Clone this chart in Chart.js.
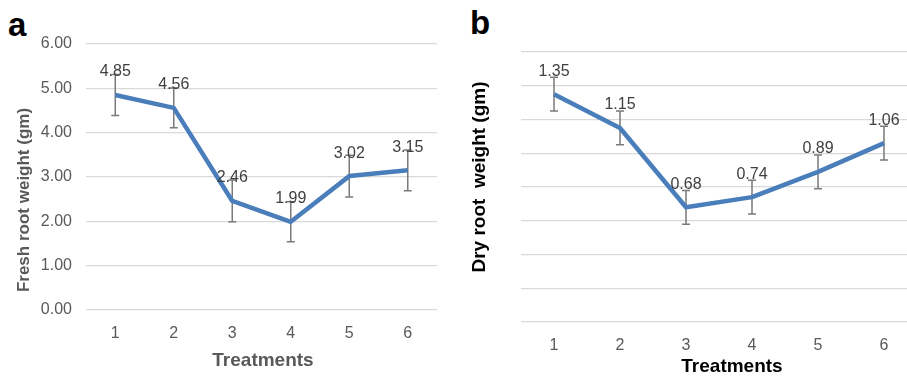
<!DOCTYPE html>
<html>
<head>
<meta charset="utf-8">
<script src="https://cdn.jsdelivr.net/npm/chart.js"></script>
<style>
    html, body { margin: 0; padding: 0; background: #fff; }
    body { width: 907px; height: 376px; overflow: hidden; position: relative; }
    .panel { position: absolute; top: 0; }
    .letter { position: absolute; font-family: "Liberation Sans", Arial, sans-serif; font-weight: bold; font-size: 33px; color: #000; line-height: 1; }
</style>
</head>
<body>
<div class="letter" style="left:8px; top:8px;">a</div>
<div class="letter" style="left:470px; top:6px;">b</div>
<canvas id="freshChart" class="panel" style="left:0px;" width="460" height="376"></canvas>
<canvas id="dryChart" class="panel" style="left:460px;" width="460" height="376"></canvas>

<script>
    const treatments = ['1', '2', '3', '4', '5', '6'];
    const freshWeight = [4.85, 4.56, 2.46, 1.99, 3.02, 3.15];
    const freshError = [0.46, 0.45, 0.47, 0.45, 0.47, 0.46];
    const dryWeight = [1.35, 1.15, 0.68, 0.74, 0.89, 1.06];
    const dryError = [0.10, 0.10, 0.10, 0.10, 0.10, 0.10];

    const FONT = '"Liberation Sans", Arial, sans-serif';
    const lineColor = '#4a7ebb';

    // error bars go under the line, value labels + axis titles on top
    const errorBarPlugin = {
        id: 'errorBars',
        beforeDatasetsDraw(chart, args, opts) {
            const ctx = chart.ctx;
            const yScale = chart.scales.y;
            const meta = chart.getDatasetMeta(0);
            const values = chart.data.datasets[0].data;
            ctx.save();
            ctx.strokeStyle = '#7a7a7a';
            ctx.lineWidth = 1.5;
            meta.data.forEach((pt, i) => {
                const top = yScale.getPixelForValue(values[i] + opts.errors[i]);
                const bottom = yScale.getPixelForValue(values[i] - opts.errors[i]);
                ctx.beginPath();
                ctx.moveTo(pt.x, top);
                ctx.lineTo(pt.x, bottom);
                ctx.moveTo(pt.x - 4, top);
                ctx.lineTo(pt.x + 4, top);
                ctx.moveTo(pt.x - 4, bottom);
                ctx.lineTo(pt.x + 4, bottom);
                ctx.stroke();
            });
            ctx.restore();
        },
        afterDatasetsDraw(chart) {
            const ctx = chart.ctx;
            const meta = chart.getDatasetMeta(0);
            const values = chart.data.datasets[0].data;
            ctx.save();
            ctx.font = '16px ' + FONT;
            ctx.fillStyle = '#404040';
            ctx.textAlign = 'center';
            ctx.textBaseline = 'middle';
            meta.data.forEach((pt, i) => {
                ctx.fillText(values[i].toFixed(2), pt.x, pt.y - 23);
            });
            ctx.restore();
        },
        afterDraw(chart, args, opts) {
            const ctx = chart.ctx;
            ctx.save();
            ctx.fillStyle = opts.titleColor;
            ctx.textAlign = 'center';
            ctx.textBaseline = 'middle';
            ctx.font = 'bold 19px ' + FONT;
            ctx.fillText('Treatments', opts.xTitlePos[0], opts.xTitlePos[1]);
            ctx.translate(opts.yTitlePos[0], opts.yTitlePos[1]);
            ctx.rotate(-Math.PI / 2);
            ctx.font = 'bold ' + opts.yTitleSize + 'px ' + FONT;
            ctx.fillText(opts.yTitle, 0, 0);
            ctx.restore();
        }
    };

    const makeChart = (el, cfg) => new Chart(el, {
        type: 'line',
        data: {
            labels: treatments,
            datasets: [{
                data: cfg.values,
                borderColor: lineColor,
                borderWidth: 4.5,
                pointRadius: 0,
                tension: 0,
                borderJoinStyle: 'round'
            }]
        },
        options: {
            responsive: false,
            animation: false,
            layout: { padding: cfg.padding },
            plugins: {
                legend: { display: false },
                tooltip: { enabled: false },
                errorBars: {
                    errors: cfg.errors,
                    titleColor: cfg.titleColor,
                    yTitle: cfg.yTitle,
                    yTitleSize: cfg.yTitleSize,
                    xTitlePos: cfg.xTitlePos,
                    yTitlePos: cfg.yTitlePos
                }
            },
            scales: {
                x: {
                    offset: true,
                    grid: { display: false, drawTicks: false },
                    border: { display: false },
                    ticks: { color: '#595959', font: { family: FONT, size: 16 }, padding: 14 },
                    afterFit(scale) { scale.height = cfg.xHeight; }
                },
                y: {
                    min: 0,
                    max: cfg.max,
                    grid: { color: '#d9d9d9', lineWidth: 1.3, drawTicks: false },
                    border: { display: false },
                    ticks: {
                        display: cfg.showTicks,
                        stepSize: cfg.step,
                        color: '#595959',
                        font: { family: FONT, size: 16 },
                        padding: 14,
                        callback: (v) => Number(v).toFixed(2)
                    },
                    afterFit(scale) { scale.width = cfg.yWidth; }
                }
            }
        },
        plugins: [errorBarPlugin]
    });

    makeChart(document.getElementById('freshChart'), {
        values: freshWeight,
        errors: freshError,
        max: 6,
        step: 1,
        showTicks: true,
        yTitle: 'Fresh root weight (gm)',
        yTitleSize: 17,
        titleColor: '#595959',
        padding: { top: 44, right: 23, bottom: 0, left: 0 },
        xHeight: 66,
        yWidth: 86,
        xTitlePos: [263, 361],
        yTitlePos: [24, 200]
    });

    makeChart(document.getElementById('dryChart'), {
        values: dryWeight,
        errors: dryError,
        max: 1.6,
        step: 0.2,
        showTicks: false,
        yTitle: 'Dry root  weight (gm)',
        yTitleSize: 19,
        titleColor: '#000000',
        padding: { top: 52, right: 3, bottom: 0, left: 0 },
        xHeight: 54,
        yWidth: 61,
        xTitlePos: [272, 367],
        yTitlePos: [20, 177]
    });
</script>
</body>
</html>
